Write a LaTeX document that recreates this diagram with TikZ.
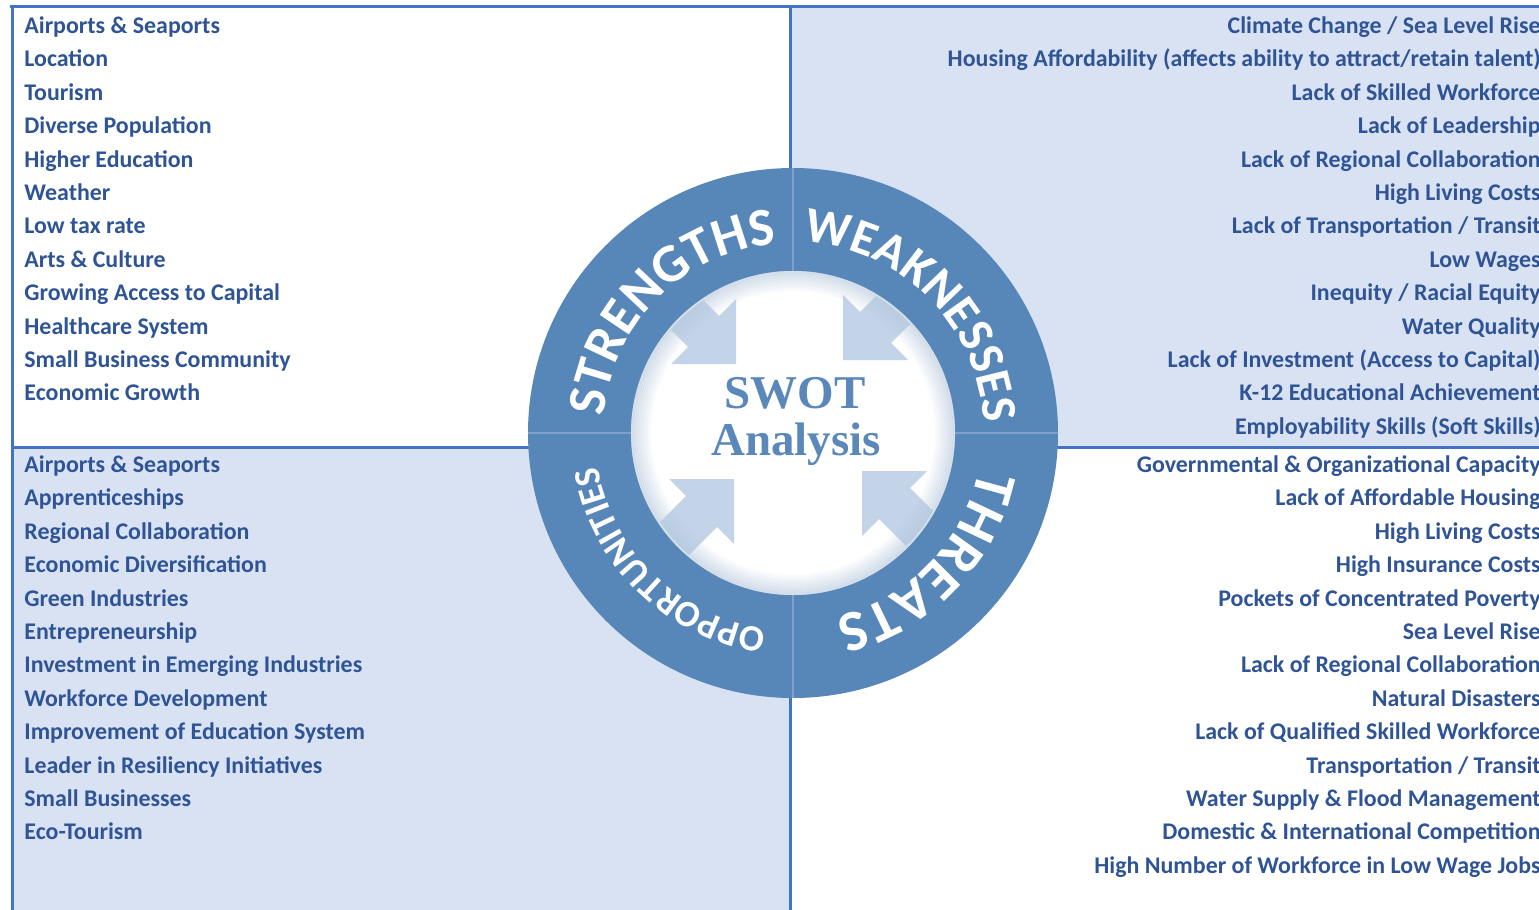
\documentclass[tikz,border=0pt]{standalone}
\usepackage{fontspec}
\setmainfont{Carlito}
\newfontfamily\titlefont{Liberation Serif}
\usepackage{tikz}
\usetikzlibrary{positioning}
\usetikzlibrary{decorations.text}

\definecolor{swotline}{HTML}{4472C4}
\definecolor{swotpale}{HTML}{D9E2F3}
\definecolor{swottext}{HTML}{2F5496}
\definecolor{swotring}{HTML}{5786B8}
\definecolor{swotseam}{HTML}{7CA2CA}
\definecolor{swotarrow}{HTML}{C3D4E8}
\definecolor{swotshade}{HTML}{B3C6DB}
\definecolor{swottitle}{HTML}{5B88BA}

\newcommand{\ringbig}{\fontsize{27}{27}\selectfont\bfseries\color{white}}
\newcommand{\ringmid}{\fontsize{25}{25}\selectfont\bfseries\color{white}}
\newcommand{\ringhuge}{\fontsize{29}{29}\selectfont\bfseries\color{white}}
\newcommand{\ringsmall}{\fontsize{18.5}{18.5}\selectfont\bfseries\color{white}}

\tikzset{
	item/.style={font=\bfseries\fontsize{11.95}{14}\selectfont, text=swottext, inner sep=0pt},
	quadline/.style={swotline, line width=1.5pt},
	titletext/.style={font=\titlefont\bfseries\fontsize{23.5}{25}\selectfont, text=swottitle, inner sep=0pt, anchor=base},
}

\begin{document}
\begin{tikzpicture}[x=0.5pt, y=0.5pt, node distance=16.7pt]
	\useasboundingbox (0,0) rectangle (1539,-910);

	%Quadrants

	\fill [swotpale] (790,-6) rectangle (1539,-447);
	\fill [swotpale] (12,-447) rectangle (790,-910);

	\draw [quadline] (10,-6) -- (1539,-6);
	\draw [quadline] (12,-6) -- (12,-910);
	\draw [quadline] (790,-6) -- (790,-910);
	\draw [quadline] (12,-447) -- (1539,-447);

	%Ring

	\coordinate (hub) at (793,-433);
	\fill [swotring] (hub) circle (265);
	\foreach \a in {0,90,180,270}
		\draw [swotseam, line width=1pt] ([shift={(\a:162)}]hub) -- ([shift={(\a:265)}]hub);
	\fill [white] (hub) circle (162);

	\begin{scope}
		\clip (hub) circle (160);
		\foreach \tip/\sx/\sy in {{736,-364}/1/1, {843,-360}/-1/1, {734,-479}/1/-1, {862,-471}/-1/-1}
			\fill [swotarrow, shift={(\tip)}, xscale=\sx, yscale=\sy] (0,0) -- (0,65) -- (-17,48) -- (-140,171) -- (-171,140) -- (-48,17) -- (-65,0) -- cycle;
	\end{scope}

	\foreach \k [evaluate=\k as \op using 0.55-0.055*\k] in {0,...,9}
		\draw [swotshade, line width=1.1pt, opacity=\op] (hub) circle (161-2*\k);

	\path [decorate, decoration={text along path, text align=center, text={|\ringbig|STRENGTHS}}]
		([shift={(180:190)}]hub) arc [start angle=180, end angle=90, radius=190];
	\path [decorate, decoration={text along path, text align=center, text={|\ringmid|WEAKNESSES}}]
		([shift={(89:191)}]hub) arc [start angle=89, end angle=1, radius=191];
	\path [decorate, decoration={text along path, text align=center, text={|\ringhuge|THREATS}}]
		([shift={(1:189)}]hub) arc [start angle=1, end angle=-89, radius=189];
	\path [decorate, decoration={text along path, text align=center, text={|\ringsmall|OPPORTUNITIES}}]
		([shift={(271:198)}]hub) arc [start angle=271, end angle=181, radius=198];

	\node (swot) [titletext] at (795,-408) {SWOT};
	\node (analysis) [titletext] at (796,-455) {Analysis};

	%Strengths

	\node (s1) [item, anchor=base west] at (24,-33.5) {Airports \& Seaports};
	\node (s2) [item, below=of s1.base west, anchor=base west] {Location};
	\node (s3) [item, below=of s2.base west, anchor=base west] {Tourism};
	\node (s4) [item, below=of s3.base west, anchor=base west] {Diverse Population};
	\node (s5) [item, below=of s4.base west, anchor=base west] {Higher Education};
	\node (s6) [item, below=of s5.base west, anchor=base west] {Weather};
	\node (s7) [item, below=of s6.base west, anchor=base west] {Low tax rate};
	\node (s8) [item, below=of s7.base west, anchor=base west] {Arts \& Culture};
	\node (s9) [item, below=of s8.base west, anchor=base west] {Growing Access to Capital};
	\node (s10) [item, below=of s9.base west, anchor=base west] {Healthcare System};
	\node (s11) [item, below=of s10.base west, anchor=base west] {Small Business Community};
	\node (s12) [item, below=of s11.base west, anchor=base west] {Economic Growth};

	%Weaknesses

	\node (w1) [item, anchor=base east] at (1541,-33.5) {Climate Change / Sea Level Rise};
	\node (w2) [item, below=of w1.base east, anchor=base east] {Housing Affordability (affects ability to attract/retain talent)};
	\node (w3) [item, below=of w2.base east, anchor=base east] {Lack of Skilled Workforce};
	\node (w4) [item, below=of w3.base east, anchor=base east] {Lack of Leadership};
	\node (w5) [item, below=of w4.base east, anchor=base east] {Lack of Regional Collaboration};
	\node (w6) [item, below=of w5.base east, anchor=base east] {High Living Costs};
	\node (w7) [item, below=of w6.base east, anchor=base east] {Lack of Transportation / Transit};
	\node (w8) [item, below=of w7.base east, anchor=base east] {Low Wages};
	\node (w9) [item, below=of w8.base east, anchor=base east] {Inequity / Racial Equity};
	\node (w10) [item, below=of w9.base east, anchor=base east] {Water Quality};
	\node (w11) [item, below=of w10.base east, anchor=base east] {Lack of Investment (Access to Capital)};
	\node (w12) [item, below=of w11.base east, anchor=base east] {K-12 Educational Achievement};
	\node (w13) [item, below=of w12.base east, anchor=base east] {Employability Skills (Soft Skills)};

	%Opportunities

	\node (o1) [item, anchor=base west] at (24,-472.5) {Airports \& Seaports};
	\node (o2) [item, below=of o1.base west, anchor=base west] {Apprenticeships};
	\node (o3) [item, below=of o2.base west, anchor=base west] {Regional Collaboration};
	\node (o4) [item, below=of o3.base west, anchor=base west] {Economic Diversification};
	\node (o5) [item, below=of o4.base west, anchor=base west] {Green Industries};
	\node (o6) [item, below=of o5.base west, anchor=base west] {Entrepreneurship};
	\node (o7) [item, below=of o6.base west, anchor=base west] {Investment in Emerging Industries};
	\node (o8) [item, below=of o7.base west, anchor=base west] {Workforce Development};
	\node (o9) [item, below=of o8.base west, anchor=base west] {Improvement of Education System};
	\node (o10) [item, below=of o9.base west, anchor=base west] {Leader in Resiliency Initiatives};
	\node (o11) [item, below=of o10.base west, anchor=base west] {Small Businesses};
	\node (o12) [item, below=of o11.base west, anchor=base west] {Eco-Tourism};

	%Threats

	\node (t1) [item, anchor=base east] at (1541,-472.5) {Governmental \& Organizational Capacity};
	\node (t2) [item, below=of t1.base east, anchor=base east] {Lack of Affordable Housing};
	\node (t3) [item, below=of t2.base east, anchor=base east] {High Living Costs};
	\node (t4) [item, below=of t3.base east, anchor=base east] {High Insurance Costs};
	\node (t5) [item, below=of t4.base east, anchor=base east] {Pockets of Concentrated Poverty};
	\node (t6) [item, below=of t5.base east, anchor=base east] {Sea Level Rise};
	\node (t7) [item, below=of t6.base east, anchor=base east] {Lack of Regional Collaboration};
	\node (t8) [item, below=of t7.base east, anchor=base east] {Natural Disasters};
	\node (t9) [item, below=of t8.base east, anchor=base east] {Lack of Qualified Skilled Workforce};
	\node (t10) [item, below=of t9.base east, anchor=base east] {Transportation / Transit};
	\node (t11) [item, below=of t10.base east, anchor=base east] {Water Supply \& Flood Management};
	\node (t12) [item, below=of t11.base east, anchor=base east] {Domestic \& International Competition};
	\node (t13) [item, below=of t12.base east, anchor=base east] {High Number of Workforce in Low Wage Jobs};

\end{tikzpicture}
\end{document}
